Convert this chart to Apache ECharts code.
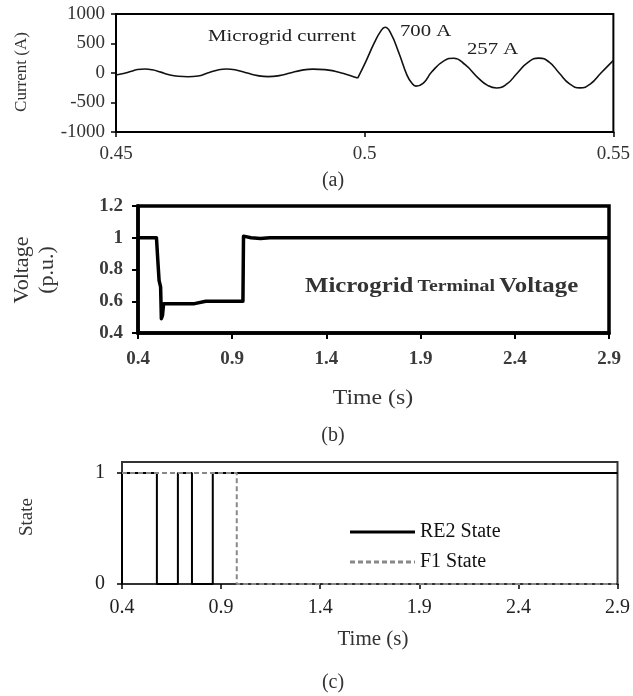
<!DOCTYPE html>
<html><head><meta charset="utf-8">
<script src="https://cdn.jsdelivr.net/npm/echarts@6/dist/echarts.min.js"></script>
<style>html,body{margin:0;padding:0;background:#fff}#c{width:633px;height:696px}</style>
</head><body><div id="c"></div>
<script>
// ---- (a) microgrid current [time s, current A]
const currentBefore = [[0.4500,-35],[0.4515,-10],[0.4529,25],[0.4543,58],[0.4558,68],[0.4573,55],[0.4590,15],[0.4605,-25],[0.4625,-55],[0.4645,-63],[0.4665,-50],[0.4684,0],[0.4703,48],[0.4722,68],[0.4743,48],[0.4764,0],[0.4785,-45],[0.4806,-62],[0.4828,-45],[0.4850,0],[0.4872,45],[0.4896,66],[0.4920,58],[0.4940,30],[0.4958,-10],[0.4972,-45],[0.4986,-85]];
const currentAfter = [[0.4986,-85],[0.5002,190],[0.5019,505],[0.5032,705],[0.5041,775],[0.5052,680],[0.5069,335],[0.5085,-35],[0.5095,-175],[0.5103,-222],[0.5118,-170],[0.5135,20],[0.5160,210],[0.5179,250],[0.5202,140],[0.5229,-90],[0.5247,-210],[0.5265,-255],[0.5286,-185],[0.5307,0],[0.5329,185],[0.5350,252],[0.5371,185],[0.5391,0],[0.5412,-185],[0.5433,-252],[0.5454,-185],[0.5475,0],[0.5500,215]];
// ---- (b) terminal voltage [time s, p.u.]
const voltagePU = [[0.4,1.0],[0.498,1.0],[0.505,0.86],[0.512,0.73],[0.520,0.69],[0.524,0.49],[0.530,0.51],[0.536,0.585],[0.700,0.585],[0.760,0.60],[0.957,0.60],[0.960,1.01],[1.000,1.0],[1.050,0.995],[1.100,1.0],[2.9,1.0]];
// ---- (c) states [time s, state]
const re2State = [[0.4,0],[0.4,1],[0.576,1],[0.576,0],[0.682,0],[0.682,1],[0.753,1],[0.753,0],[0.858,0],[0.858,1],[2.9,1]];
const f1State = [[0.4,1],[0.979,1],[0.979,0],[2.9,0]];
// ---- axis ranges / ticks
const axisTimeA = {min:0.45, max:0.55, interval:0.05};
const axisCurrent = {min:-1000, max:1000, interval:500};
const axisTimeBC = {min:0.4, max:2.9, interval:0.5};
const axisVoltage = {min:0.4, max:1.2, interval:0.2};
const axisState = {min:0, max:1.1, interval:1};

const SERIF = '"Liberation Serif","Times New Roman",serif';
const chart = echarts.init(document.getElementById('c'), null, {renderer:'canvas'});

function ax(base, o){
  return Object.assign({
    type:'value', min:base.min, max:base.max, interval:base.interval,
    splitLine:{show:false},
    axisLine:{show:true, onZero:false, lineStyle:{color:'#000', width:2}},
    axisTick:{show:true, inside:false, length:5, lineStyle:{color:'#000', width:1.5}},
    axisLabel:{color:'#333', fontFamily:SERIF, fontSize:18, margin:12, showMinLabel:true, showMaxLabel:true}
  }, o);
}

function txt(text, x, y, font, opt){
  return Object.assign({type:'text', x:x, y:y, silent:true,
    style:{text:text, font:font, fill:'#333', align:'center', verticalAlign:'middle'}}, opt||{});
}
function ltxt(text, x, y, font, sx){
  return {type:'text', x:x, y:y, silent:true, scaleX:sx,
    style:{text:text, font:font, fill:'#222', align:'left', verticalAlign:'middle'}};
}

const dashIcon = 'path://M0,9h5v3H0zM8,9h5v3H8zM16,9h5v3H16zM24,9h5v3H24zM32,9h5v3H32zM40,9h5v3H40zM48,9h5v3H48zM56,9h5v3H56zM64,9h1v3H64z';

chart.setOption({
  backgroundColor:'#fff',
  animation:false,
  grid:[
    {left:116, top:14, width:499, height:118, show:true, borderColor:'#000', borderWidth:2, backgroundColor:'transparent'},
    {left:138, top:206, width:471, height:127, show:true, borderColor:'#000', borderWidth:3.5, backgroundColor:'transparent'},
    {left:122, top:462, width:496, height:122, show:true, borderColor:'#333', borderWidth:2, backgroundColor:'transparent'}
  ],
  xAxis:[
    ax(axisTimeA, {gridIndex:0, axisLabel:{color:'#333', fontFamily:SERIF, fontSize:19, margin:13, formatter:v=>String(+v.toFixed(2))}}),
    ax(axisTimeBC, {gridIndex:1, axisLine:{onZero:false, lineStyle:{color:'#000', width:3.5}}, axisTick:{length:6, lineStyle:{color:'#000', width:2}},
      axisLabel:{color:'#3a3a3a', fontFamily:SERIF, fontWeight:'bold', fontSize:19, margin:17, formatter:v=>String(+v.toFixed(1))}}),
    ax(axisTimeBC, {gridIndex:2, axisLine:{onZero:false, lineStyle:{color:'#333', width:2}},
      axisLabel:{color:'#222', fontFamily:SERIF, fontSize:20, margin:14, formatter:v=>String(+v.toFixed(1))}})
  ],
  yAxis:[
    ax(axisCurrent, {gridIndex:0, axisLabel:{color:'#333', fontFamily:SERIF, fontSize:19, margin:11, formatter:v=>String(Math.round(v))}}),
    ax(axisVoltage, {gridIndex:1, axisLine:{onZero:false, lineStyle:{color:'#000', width:3.5}}, axisTick:{length:6, lineStyle:{color:'#000', width:2}},
      axisLabel:{color:'#3a3a3a', fontFamily:SERIF, fontWeight:'bold', fontSize:19, margin:15, formatter:v=>String(+v.toFixed(1))}}),
    ax(axisState, {gridIndex:2, axisLine:{onZero:false, lineStyle:{color:'#333', width:2}},
      axisLabel:{color:'#222', fontFamily:SERIF, fontSize:20, margin:17, showMaxLabel:false}})
  ],
  legend:{
    show:true, orient:'vertical', left:345, top:517, itemWidth:65, itemHeight:20, itemGap:10,
    textStyle:{color:'#111', fontFamily:SERIF, fontSize:20, lineHeight:20},
    data:[
      {name:'RE2 State', icon:'path://M0,9L65,9L65,12L0,12Z', itemStyle:{color:'#000'}},
      {name:'F1 State', icon:dashIcon, itemStyle:{color:'#888'}}
    ]
  },
  series:[
    {type:'line', xAxisIndex:0, yAxisIndex:0, data:currentBefore, smooth:0.5, symbol:'none', lineStyle:{color:'#111', width:1.6}},
    {type:'line', xAxisIndex:0, yAxisIndex:0, data:currentAfter, smooth:0.5, symbol:'none', lineStyle:{color:'#111', width:1.6}},
    {type:'line', xAxisIndex:1, yAxisIndex:1, data:voltagePU, symbol:'none', lineStyle:{color:'#000', width:3.5, join:'round'}},
    {name:'RE2 State', type:'line', xAxisIndex:2, yAxisIndex:2, data:re2State, symbol:'none', itemStyle:{color:'#000'}, lineStyle:{color:'#000', width:2}},
    {name:'F1 State', type:'line', xAxisIndex:2, yAxisIndex:2, data:f1State, symbol:'none', itemStyle:{color:'#888'}, lineStyle:{color:'#888', width:2, type:[5,3]}, z:3}
  ],
  graphic:[
    txt('Current (A)', 22, 72, '17px '+SERIF, {rotation:Math.PI/2}),
    ltxt('Microgrid current', 208, 37, '17px '+SERIF, 1.22),
    ltxt('700 A', 400, 32, '17px '+SERIF, 1.22),
    ltxt('257 A', 467, 50, '17px '+SERIF, 1.22),
    txt('(a)', 333, 181, '20px '+SERIF),
    txt('Voltage', 22, 270, '22px '+SERIF, {rotation:Math.PI/2}),
    txt('(p.u.)', 47, 270, '22px '+SERIF, {rotation:Math.PI/2}),
    {type:'text', x:305, y:287, silent:true, scaleX:1.24, style:{text:'{a|Microgrid} {b|Terminal} {a|Voltage}', fill:'#333', align:'left', verticalAlign:'middle',
      rich:{a:{font:'bold 20px '+SERIF, fill:'#333'}, b:{font:'bold 16px '+SERIF, fill:'#333'}}}},
    txt('Time (s)', 373, 398, '22px '+SERIF, {scaleX:1.08}),
    txt('(b)', 333, 436, '20px '+SERIF),
    txt('State', 27, 517, '19px '+SERIF, {rotation:Math.PI/2}),
    txt('Time (s)', 373, 640, '20px '+SERIF, {scaleX:1.05}),
    txt('(c)', 333, 683, '20px '+SERIF)
  ]
});
</script></body></html>
